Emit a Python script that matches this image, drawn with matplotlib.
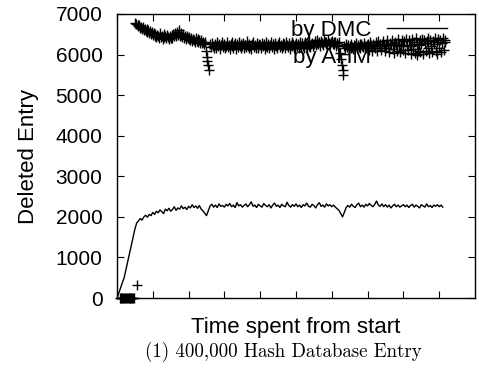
import numpy as np
import matplotlib
matplotlib.use("Agg")
import matplotlib.pyplot as plt

# deleted entries by DMC (line), one value every 0.05 time units
dmc_step = 0.05
dmc = [
    0, 120, 250, 380, 500, 700, 900, 1100, 1300, 1500, 1700, 1850, 1900, 1960, 1920, 2000, 2040, 1990, 2060, 2030,
    2110, 2060, 2140, 2100, 2170, 2130, 2080, 2190, 2150, 2210, 2140, 2180, 2250, 2160, 2220, 2190, 2270, 2200, 2240, 2180,
    2260, 2220, 2300, 2230, 2270, 2210, 2280, 2190, 2150, 2090, 2030, 2150, 2270, 2310, 2240, 2290, 2230, 2320, 2260, 2280,
    2240, 2310, 2270, 2330, 2250, 2290, 2230, 2350, 2270, 2300, 2240, 2280, 2320, 2250, 2300, 2370, 2260, 2290, 2230, 2310,
    2270, 2240, 2330, 2280, 2250, 2300, 2220, 2290, 2340, 2260, 2290, 2230, 2310, 2270, 2250, 2360, 2280, 2240, 2300, 2260,
    2320, 2250, 2290, 2230, 2300, 2270, 2340, 2260, 2240, 2310, 2280, 2220, 2300, 2350, 2260, 2290, 2240, 2320, 2270, 2300,
    2250, 2290, 2240, 2200, 2160, 2080, 2000, 2110, 2230, 2280, 2240, 2310, 2260, 2230, 2300, 2340, 2250, 2290, 2240, 2310,
    2270, 2330, 2280, 2250, 2310, 2390, 2290, 2260, 2320, 2250, 2300, 2240, 2290, 2220, 2270, 2310, 2250, 2290, 2240, 2270,
    2300, 2250, 2290, 2230, 2280, 2310, 2240, 2290, 2260, 2220, 2300, 2270, 2240, 2320, 2250, 2280, 2230, 2290, 2260, 2300,
    2250, 2290, 2240,
]

# deleted entries by AHM (points), one value every 0.025 time units
ahm_step = 0.025
ahm = [
    np.nan, np.nan, np.nan, 0, 0, 0, 0, 0, 0, 0, 0, 0, 0, 0, 0, 0, 0, 0, 0, 0,
    6780, 6750, 320, 6720, 6700, 6740, 6660, 6690, 6620, 6680, 6600, 6640, 6580, 6620, 6550, 6600, 6530, 6580, 6510, 6560,
    6480, 6540, 6450, 6510, 6430, 6490, 6470, 6400, 6520, 6440, 6460, 6390, 6500, 6430, 6470, 6410, 6490, 6440, 6380, 6460,
    6420, 6480, 6400, 6510, 6450, 6530, 6470, 6560, 6490, 6600, 6450, 6520, 6480, 6430, 6500, 6410, 6470, 6390, 6450, 6420,
    6380, 6440, 6360, 6410, 6330, 6390, 6350, 6300, 6420, 6340, 6380, 6310, 6360, 6290, 6350, 6280, 6320, 6260, 6300, 6100,
    5950, 5850, 5750, 5620, 6250, 6180, 6290, 6210, 6150, 6270, 6230, 6170, 6310, 6200, 6260, 6140, 6240, 6300, 6190, 6230,
    6260, 6150, 6220, 6300, 6180, 6240, 6130, 6270, 6200, 6310, 6160, 6230, 6280, 6140, 6250, 6190, 6320, 6210, 6170, 6260,
    6200, 6290, 6150, 6240, 6180, 6330, 6220, 6160, 6270, 6210, 6140, 6250, 6300, 6190, 6230, 6160, 6280, 6220, 6170, 6260,
    6230, 6150, 6290, 6200, 6250, 6140, 6310, 6220, 6180, 6270, 6160, 6240, 6300, 6190, 6260, 6130, 6230, 6280, 6200, 6170,
    6250, 6310, 6180, 6230, 6150, 6290, 6210, 6260, 6170, 6320, 6240, 6190, 6280, 6140, 6230, 6300, 6200, 6260, 6170, 6240,
    6290, 6210, 6250, 6160, 6320, 6230, 6180, 6280, 6220, 6150, 6300, 6240, 6190, 6270, 6210, 6330, 6180, 6250, 6290, 6200,
    6270, 6330, 6230, 6290, 6360, 6250, 6310, 6220, 6340, 6280, 6240, 6350, 6300, 6260, 6320, 6230, 6370, 6290, 6250, 6310,
    6340, 6270, 6300, 6250, 6320, 6220, 6280, 6240, 6300, 6050, 5900, 5750, 5620, 5500, 6200, 6150, 6250, 6180, 6230, 6140,
    6220, 6170, 6260, 6190, 6130, 6240, 6200, 6280, 6160, 6230, 6190, 6270, 6150, 6250, 6210, 6180, 6290, 6220, 6170, 6240,
    6200, 6260, 6110, 6300, 6230, 6080, 6270, 6210, 6150, 6320, 6240, 6090, 6330, 6220, 6260, 6120, 6250, 6340, 6210, 6100,
    6270, 6150, 6350, 6240, 6060, 6290, 6230, 6370, 6130, 6260, 6050, 6300, 6250, 6100, 6380, 6240, 6070, 6200, 6350, 6120,
    6230, 6340, 6050, 6390, 6220, 6110, 6360, 6240, 6020, 6210, 6380, 6140, 6300, 6030, 6400, 6270, 6090, 6240, 6370, 6060,
    6260, 6390, 6010, 6370, 6280, 6080, 6340, 6150, 6400, 6040, 6360, 6200, 6070, 6330, 6250, 6410, 6100, 6310, 6020, 6380,
    6160, 6350, 6060, 6290, 6420, 6120, 6370, 6310,
]

yticks = [0, 1000, 2000, 3000, 4000, 5000, 6000, 7000]
xticks = list(range(10))

t_dmc = np.arange(len(dmc)) * dmc_step
t_ahm = np.arange(len(ahm)) * ahm_step

plt.rcParams['font.family'] = ['Liberation Sans', 'DejaVu Sans']

fig = plt.figure(figsize=(4.79, 3.78), dpi=100)
ax = fig.add_axes([117 / 479, 1 - 298 / 378, 358 / 479, 284 / 378])

ax.plot(t_dmc, dmc, color='black', lw=1.0, label='by DMC')
ax.plot(t_ahm, ahm, ls='none', marker='+', ms=6.5, mew=1.0, color='black',
        label='by AHM', clip_on=False)

ax.set_xlim(0, 10)
ax.set_ylim(0, 7000)
ax.set_xticks(xticks)
ax.set_xticklabels([])
ax.set_yticks(yticks)
ax.tick_params(direction='in', top=True, right=True, length=5, labelsize=15, pad=10.5)
for s in ax.spines.values():
    s.set_linewidth(1.0)

ax.set_ylabel('Deleted Entry', fontsize=16, labelpad=12)
fig.text(296 / 479, 1 - 328 / 378, 'Time spent from start', fontsize=16,
         ha='center', va='center')

leg = ax.legend(loc='upper right', bbox_to_anchor=(0.934, 0.996), frameon=False,
                markerfirst=False, handlelength=2.7, fontsize=16,
                labelspacing=0.3, handletextpad=0.7, borderpad=0.2,
                borderaxespad=0)

fig.text(283 / 479, 1 - 352 / 378, '(1) 400,000 Hash Database Entry',
         family=['cmr10', 'DejaVu Serif'], fontsize=13.6, ha='center', va='center')

fig.savefig('out.png', dpi=100)
